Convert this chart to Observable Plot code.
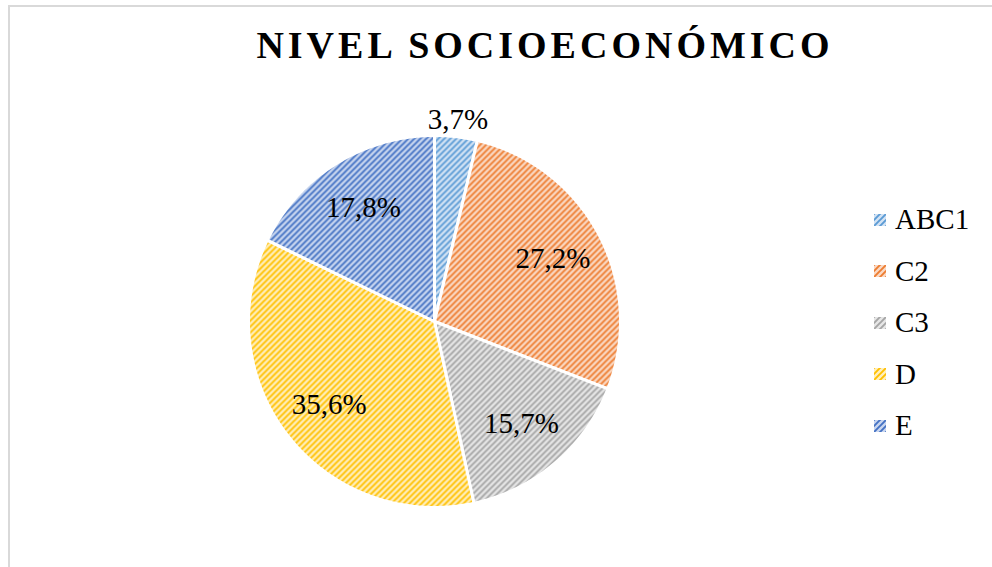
<!DOCTYPE html>
<html><head><meta charset="utf-8">
<script src="https://cdn.jsdelivr.net/npm/d3@7"></script>
<script src="https://cdn.jsdelivr.net/npm/@observablehq/plot@0.6"></script>
<style>
body{margin:0;background:#fff;}
#wrap{position:relative;width:992px;height:567px;overflow:hidden;font-family:"Liberation Serif",Tinos,"Times New Roman",Times,"DejaVu Serif","Noto Serif",serif;color:#000;}
#frame{position:absolute;left:8px;top:5px;width:1200px;height:800px;border-left:2px solid #d9d9d9;border-top:2px solid #d9d9d9;}
#chart{position:absolute;left:0;top:0;}
#title{position:absolute;left:0;width:1090px;text-align:center;top:26px;font-weight:bold;font-size:38px;line-height:38px;letter-spacing:4px;white-space:nowrap;}
#legend{position:absolute;left:874px;top:194px;}
.row{height:51.5px;display:flex;align-items:center;font-size:29px;line-height:29px;}
.row svg{margin-right:9px;display:block;}
</style></head>
<body>
<svg width="0" height="0" style="position:absolute"><defs id="defs"></defs></svg>
<div id="wrap">
  <div id="frame"></div>
  <div id="chart"></div>
  <div id="title">NIVEL SOCIOECONÓMICO</div>
  <div id="legend"></div>
</div>
<script>
const categories = ["ABC1", "C2", "C3", "D", "E"];
const values = [3.7, 27.2, 15.7, 35.6, 17.8];
const labels = ["3,7%", "27,2%", "15,7%", "35,6%", "17,8%"];
const lineColors = ["#5B9BD5", "#ED7D31", "#A5A5A5", "#FFC000", "#4472C4"];
const bgColors = ["#d3e3f4", "#fad9c4", "#e6e6e6", "#ffefbd", "#c9d6ef"];
const serif = '"Liberation Serif", Tinos, "Times New Roman", Times, "DejaVu Serif", "Noto Serif", serif';

// hatch patterns
const defs = d3.select("#defs");
categories.forEach((c, i) => {
  const p = defs.append("pattern").attr("id", "hatch-" + i)
    .attr("patternUnits", "userSpaceOnUse").attr("width", 6).attr("height", 6);
  p.append("rect").attr("width", 6).attr("height", 6).attr("fill", bgColors[i]);
  p.append("path").attr("d", "M-1,1 l2,-2 M0,6 l6,-6 M5,7 l2,-2")
    .attr("stroke", lineColors[i]).attr("stroke-width", 1.9);
});

const arcs = d3.pie().sort(null).value(d => d)(values);
const slices = arcs.map((a, i) => {
  const n = Math.max(2, Math.ceil((a.endAngle - a.startAngle) / (Math.PI / 360)));
  const ring = [[0, 0]];
  for (let k = 0; k <= n; k++) {
    const ang = a.startAngle + (a.endAngle - a.startAngle) * k / n;
    ring.push([Math.sin(ang), Math.cos(ang)]);
  }
  ring.push([0, 0]);
  return {type: "Feature", properties: {i, fill: "url(#hatch-" + i + ")"},
          geometry: {type: "Polygon", coordinates: [ring]}};
});
const labelData = arcs.map((a, i) => {
  const m = (a.startAngle + a.endAngle) / 2;
  const r = values[i] < 5 ? 1.09 : 0.72;
  return {label: labels[i], x: r * Math.sin(m), y: r * Math.cos(m)};
});

const chart = Plot.plot({
  width: 992, height: 567,
  margin: 0,
  style: {background: "transparent", overflow: "visible", fontFamily: serif},
  projection: {type: "reflect-y", domain: {type: "MultiPoint", coordinates: [[-1, -1], [1, 1]]},
    insetLeft: 248, insetRight: 372, insetTop: 135, insetBottom: 60},
  color: {type: "identity"},
  marks: [
    Plot.geo(slices, {fill: d => d.properties.fill, stroke: "white", strokeWidth: 3}),
    Plot.text(labelData, {x: "x", y: "y", text: "label", fontSize: 29,
      fontFamily: serif, fill: "black"})
  ]
});
document.getElementById("chart").appendChild(chart);

const legend = d3.select("#legend");
categories.forEach((c, i) => {
  const row = legend.append("div").attr("class", "row");
  const s = row.append("svg").attr("width", 12).attr("height", 12);
  s.append("rect").attr("width", 12).attr("height", 12).attr("fill", "url(#hatch-" + i + ")");
  row.append("span").text(c);
});
</script>
</body></html>
